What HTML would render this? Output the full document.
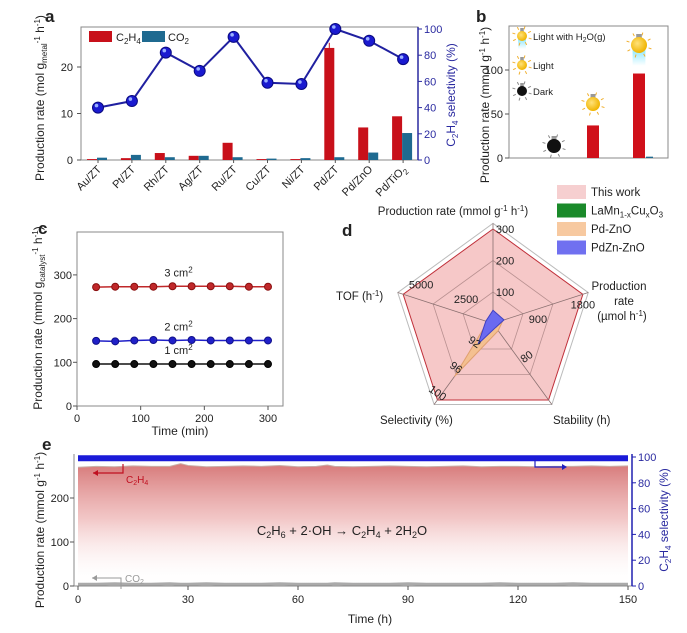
<!DOCTYPE html>
<html><head><meta charset="utf-8">
<style>
html,body{margin:0;padding:0;background:#fff;}
svg{display:block;font-family:"Liberation Sans",Arial,sans-serif;}
text{fill:#222;}
</style></head>
<body>
<svg id="fig" width="687" height="633" viewBox="0 0 687 633">
<defs>
<linearGradient id="eg" x1="0" y1="0" x2="0" y2="1">
<stop offset="0" stop-color="#d26a6a" stop-opacity="0.9"/>
<stop offset="0.45" stop-color="#eba8a8" stop-opacity="0.65"/>
<stop offset="1" stop-color="#ffffff" stop-opacity="0"/>
</linearGradient>
<radialGradient id="bulbY" cx="0.4" cy="0.4" r="0.6"><stop offset="0" stop-color="#ffe27a"/><stop offset="1" stop-color="#f0b400"/></radialGradient>
<linearGradient id="glow" x1="0" y1="0" x2="0" y2="1"><stop offset="0" stop-color="#5fe0ff" stop-opacity="0.9"/><stop offset="1" stop-color="#5fe0ff" stop-opacity="0"/></linearGradient>
</defs>
<g id="ga"></g>
<g id="gb"></g>
<g id="gc"></g>
<g id="gd"></g>
<g id="ge"></g>
</svg>
<script>
// ---- panel a data
const aCats = ["Au/ZT","Pt/ZT","Rh/ZT","Ag/ZT","Ru/ZT","Cu/ZT","Ni/ZT","Pd/ZT","Pd/ZnO","Pd/TiO2"];
const aC2H4 = [0.2,0.4,1.5,0.9,3.7,0.2,0.2,24.1,7.0,9.4];
const aCO2 = [0.5,1.1,0.6,0.9,0.6,0.3,0.4,0.6,1.6,5.8];
const aSel = [40,45,82,68,94,59,58,100,91,77];
const aLeftTicks = [0,10,20];
const aRightTicks = [0,20,40,60,80,100];
// ---- panel b data
const bCats = ["Dark","Light","Light with H2O(g)"];
const bC2H4 = [0,37,96];
const bCO2 = [0,0,1.5];
const bTicks = [0,50,100];
// ---- panel c data
const cTime = [30,60,90,120,150,180,210,240,270,300];
const c3 = [272,273,273,273,274,274,274,274,273,273];
const c2 = [149,148,150,151,150,151,150,150,150,150];
const c1 = [96,96,96,96,96,96,96,96,96,96];
const cYTicks = [0,100,200,300];
const cXTicks = [0,100,200,300];
// ---- panel d data
const dAxes = ["Production rate (mmol g-1 h-1)","Production rate (umol h-1)","Stability (h)","Selectivity (%)","TOF (h-1)"];
const dMin = [0,0,0,88,0];
const dMax = [300,1800,160,100,5000];
const dThisWork = [300,1800,160,100,5000];
const dLaMn = [10,60,5,88,200];
const dPdZnO = [20,200,15,96.3,300];
const dPdZn = [42,220,8,91.2,400];
// ---- panel e data
const eTime = [0,5,10,15,20,25,28,30,35,40,45,50,55,60,65,68,70,75,80,85,90,95,100,105,110,115,120,125,130,135,140,145,150];
const eC2H4 = [270,272,271,273,272,272,278,274,271,272,273,272,274,271,272,275,272,271,272,273,272,271,272,273,271,272,272,271,272,272,273,272,273];
const eCO2 = [4,4,5,4,4,5,4,4,5,4,4,4,5,4,4,4,5,4,4,4,5,4,4,4,4,5,4,4,4,5,4,4,4];
const eSel = [99,99,99,99,99,99,99,99,99,99,99,99,99,99,99,99,99,99,99,99,99,99,99,99,99,99,99,99,99,99,99,99,99];
const eYTicks = [0,100,200];
const eRTicks = [0,20,40,60,80,100];
const eXTicks = [0,30,60,90,120,150];

const NS="http://www.w3.org/2000/svg";
function mk(parent,tag,attrs,txt){const e=document.createElementNS(NS,tag);for(const k in attrs)e.setAttribute(k,attrs[k]);if(txt!==undefined)e.textContent=txt;parent.appendChild(e);return e;}
function lin(d0,d1,r0,r1){return v=>r0+(v-d0)*(r1-r0)/(d1-d0);}

// ================= PANEL A
(function(){
const g=document.getElementById('ga');
const L=81,R=418,T=27,B=160;
const y=lin(0,28.6,B,T), yr=lin(0,100,B,29);
const xc=i=>98+i*33.9;
let t=mk(g,'text',{x:45,y:22,'font-size':17,'font-weight':'bold'},'a');

let r=mk(g,'rect',{x:L,y:T,width:R-L,height:B-T,fill:'none',stroke:'#888','stroke-width':1});

aLeftTicks.forEach(v=>{mk(g,'line',{x1:L-4,x2:L,y1:y(v),y2:y(v),stroke:'#555'});
 const tt=mk(g,'text',{x:L-8,y:y(v)+4,'font-size':11,'text-anchor':'end'},v);
 });
aRightTicks.forEach(v=>{mk(g,'line',{x1:R,x2:R+4,y1:yr(v),y2:yr(v),stroke:'#2a2aa0'});
 const tt=mk(g,'text',{x:R+6,y:yr(v)+4,'font-size':11,fill:'#2a2aa0',style:'fill:#2a2aa0'},v);
 });
mk(g,'line',{x1:R,x2:R,y1:T,y2:B,stroke:'#2a2aa0','stroke-width':1.5});
aCats.forEach((c,i)=>{
 const b1=mk(g,'rect',{x:xc(i)-11,y:y(aC2H4[i]),width:10,height:B-y(aC2H4[i]),fill:'#c8101a'});
 
 const b2=mk(g,'rect',{x:xc(i)-1,y:y(aCO2[i]),width:10,height:B-y(aCO2[i]),fill:'#1f6a90'});
 
 mk(g,'line',{x1:xc(i),x2:xc(i),y1:B,y2:B+3,stroke:'#555'});
 const lab=c==="Pd/TiO2"?'Pd/TiO<tspan font-size="8" dy="3">2</tspan>':c;
 const tl=mk(g,'text',{'font-size':11,'text-anchor':'end',transform:`translate(${xc(i)+4},${B+10}) rotate(-45)`});
 tl.innerHTML=lab;
 
});
let pts=aSel.map((v,i)=>xc(i)+','+yr(v)).join(' ');
const pl=mk(g,'polyline',{points:pts,fill:'none',stroke:'#2020a0','stroke-width':2});

aSel.forEach((v,i)=>{const c=mk(g,'circle',{cx:xc(i),cy:yr(v),r:5.5,fill:'#1a1ad0',stroke:'#0a0a80'});
 
 mk(g,'circle',{cx:xc(i)-1.5,cy:yr(v)-2,r:1.8,fill:'#9ab0ff'});});
mk(g,'line',{x1:xc(7)-6,x2:xc(7)-6,y1:y(25.2),y2:y(24.1),stroke:'#c8101a'});
const lg1=mk(g,'rect',{x:89,y:31,width:23,height:11,fill:'#c8101a'});

mk(g,'text',{x:116,y:41,'font-size':11}).innerHTML='C<tspan font-size="8" dy="3">2</tspan><tspan dy="-3">H</tspan><tspan font-size="8" dy="3">4</tspan>';
const lg2=mk(g,'rect',{x:142,y:31,width:23,height:11,fill:'#1f6a90'});

mk(g,'text',{x:168,y:41,'font-size':11}).innerHTML='CO<tspan font-size="8" dy="3">2</tspan>';
const yt=mk(g,'text',{'font-size':12,'text-anchor':'middle',transform:'translate(44,98) rotate(-90)'});
yt.innerHTML='Production rate (mol g<tspan font-size="8" dy="3">metal</tspan><tspan font-size="8" dy="-7">-1</tspan><tspan dy="4"> h</tspan><tspan font-size="8" dy="-4">-1</tspan><tspan dy="4">)</tspan>';

const yt2=mk(g,'text',{'font-size':12,'text-anchor':'middle',fill:'#2a2aa0',style:'fill:#2a2aa0',transform:'translate(455,95) rotate(-90)'});
yt2.innerHTML='C<tspan font-size="8" dy="3">2</tspan><tspan dy="-3">H</tspan><tspan font-size="8" dy="3">4</tspan><tspan dy="-3"> selectivity (%)</tspan>';

})();

// ================= PANEL B
(function(){
const g=document.getElementById('gb');
const L=509,R=668,T=26,B=158;
const y=lin(0,50,B,114);
const xc=[554,593,639];
let t=mk(g,'text',{x:476,y:22,'font-size':17,'font-weight':'bold'},'b');

mk(g,'rect',{x:L,y:T,width:R-L,height:B-T,fill:'none',stroke:'#888'});
bTicks.forEach(v=>{mk(g,'line',{x1:L-4,x2:L,y1:y(v),y2:y(v),stroke:'#555'});
 const tt=mk(g,'text',{x:L-6,y:y(v)+4,'font-size':11,'text-anchor':'end'},v);
 });
bCats.forEach((c,i)=>{
 if(bC2H4[i]>0){const b=mk(g,'rect',{x:xc[i]-6,y:y(bC2H4[i]),width:12,height:B-y(bC2H4[i]),fill:'#d0101a'});
 }
 if(bCO2[i]>0){const b=mk(g,'rect',{x:xc[i]+7,y:y(bCO2[i]),width:7,height:B-y(bCO2[i]),fill:'#1f6a90'});
 }
});
function bulb(cx,cy,r,fill,glow){
 const gg=mk(g,'g',{});
 if(glow)mk(gg,'rect',{x:cx-r*0.8,y:cy,width:r*1.6,height:r*2.6,fill:'url(#glow)'});
 for(let k=0;k<8;k++){const a=k*Math.PI/4+0.3;mk(gg,'line',{x1:cx+Math.cos(a)*(r+2),y1:cy+Math.sin(a)*(r+2),x2:cx+Math.cos(a)*(r+5),y2:cy+Math.sin(a)*(r+5),stroke:fill==='#111'?'#888':'#f0b030','stroke-width':1});}
 mk(gg,'rect',{x:cx-r*0.35,y:cy-r-3,width:r*0.7,height:4,fill:'#999'});
 mk(gg,'circle',{cx:cx,cy:cy,r:r,fill:fill});
 return gg;}
let bb=bulb(554,146,7,'#111',false);
bb=bulb(593,104,7,'url(#bulbY)',false);
bb=bulb(639,45,8,'url(#bulbY)',true);
bb=bulb(522,36,5,'url(#bulbY)',true);
bb=bulb(522,65,5,'url(#bulbY)',false);
bb=bulb(522,91,5,'#111',false);
mk(g,'text',{x:533,y:40,'font-size':9.5}).innerHTML='Light with H<tspan font-size="7" dy="2">2</tspan><tspan dy="-2">O(g)</tspan>';
mk(g,'text',{x:533,y:69,'font-size':9.5},'Light');
mk(g,'text',{x:533,y:95,'font-size':9.5},'Dark');
const yt=mk(g,'text',{'font-size':12,'text-anchor':'middle',transform:'translate(489,105) rotate(-90)'});
yt.innerHTML='Production rate (mmol g<tspan font-size="8" dy="-4">-1</tspan><tspan dy="4"> h</tspan><tspan font-size="8" dy="-4">-1</tspan><tspan dy="4">)</tspan>';

})();

// ================= PANEL C
(function(){
const g=document.getElementById('gc');
const L=77,R=283,T=232,B=406;
const y=lin(0,100,B,362.3), x=lin(0,300,L,268);
let t=mk(g,'text',{x:38,y:234,'font-size':17,'font-weight':'bold'},'c');

mk(g,'rect',{x:L,y:T,width:R-L,height:B-T,fill:'none',stroke:'#888'});
cYTicks.forEach(v=>{mk(g,'line',{x1:L-4,x2:L,y1:y(v),y2:y(v),stroke:'#555'});
 const tt=mk(g,'text',{x:L-5,y:y(v)+4,'font-size':11,'text-anchor':'end'},v);
 });
cXTicks.forEach(v=>{mk(g,'line',{x1:x(v),x2:x(v),y1:B,y2:B+4,stroke:'#555'});
 const tt=mk(g,'text',{x:x(v),y:B+16,'font-size':11,'text-anchor':'middle'},v);
 });
[[c3,'#c0282a','#8a1010','3 cm'],[c2,'#2020c8','#10108a','2 cm'],[c1,'#111','#000','1 cm']].forEach((s,k)=>{
 const pl=mk(g,'polyline',{points:cTime.map((tm,i)=>x(tm)+','+y(s[0][i])).join(' '),fill:'none',stroke:s[1],'stroke-width':1.5});
 
 cTime.forEach((tm,i)=>{const c=mk(g,'circle',{cx:x(tm),cy:y(s[0][i]),r:3.5,fill:s[1],stroke:s[2]});
  });
 const lt=mk(g,'text',{x:x(150)+6,y:y(s[0][4])-10,'font-size':11,'text-anchor':'middle'});
 lt.innerHTML=s[3]+'<tspan font-size="8" dy="-4">2</tspan>';
 
});
const xt=mk(g,'text',{x:180,y:435,'font-size':12,'text-anchor':'middle'},'Time (min)');

const yt=mk(g,'text',{'font-size':12,'text-anchor':'middle',transform:'translate(42,318) rotate(-90)'});
yt.innerHTML='Production rate (mmol g<tspan font-size="8" dy="3">catalyst</tspan><tspan font-size="8" dy="-7">-1</tspan><tspan dy="4"> h</tspan><tspan font-size="8" dy="-4">-1</tspan><tspan dy="4">)</tspan>';

})();

// ================= PANEL D
(function(){
const g=document.getElementById('gd');
const cx=493,cy=323.5,Rr=94.5;
const ang=i=>(-90+72*i)*Math.PI/180;
const P=(i,f)=>[cx+Math.cos(ang(i))*Rr*f,cy+Math.sin(ang(i))*Rr*f];
const norm=(i,v)=>(v-dMin[i])/(dMax[i]-dMin[i]);
let t=mk(g,'text',{x:342,y:236,'font-size':17,'font-weight':'bold'},'d');

mk(g,'polygon',{points:[0,1,2,3,4].map(i=>P(i,1.06).join(',')).join(' '),fill:'none',stroke:'#bbb'});
function poly(vals,fill,stroke,name){const p=mk(g,'polygon',{points:vals.map((v,i)=>P(i,Math.max(0,norm(i,v))).join(',')).join(' '),fill:fill,stroke:stroke,'stroke-width':1});
 }
poly(dThisWork,'#f6c8c8','#c0303a','radar-this-work');
[1/3,2/3].forEach(f=>mk(g,'polygon',{points:[0,1,2,3,4].map(i=>P(i,f).join(',')).join(' '),fill:'none',stroke:'#b89090','stroke-width':0.8}));
[0,1,2,3,4].forEach(i=>{const p=P(i,1.06);mk(g,'line',{x1:cx,y1:cy,x2:p[0],y2:p[1],stroke:'#8a7070','stroke-width':0.8});});
poly(dLaMn,'#1a9a2a','#107010','radar-lamncuo');
poly(dPdZnO,'#f4c090','#e0a070','radar-pd-zno');
poly(dPdZn,'#6a6af0','#4040c0','radar-pdzn-zno');
const tk=[[0,100,'100'],[0,200,'200'],[0,300,'300'],[1,900,'900'],[1,1800,'1800'],[2,80,'80'],[3,92,'92'],[3,96,'96'],[3,100,'100'],[4,2500,'2500'],[4,5000,'5000']];
tk.forEach(k=>{const p=P(k[0],norm(k[0],k[1]));
 let dx=0,dy=4,rot=0;
 if(k[0]===0){dx=12;dy=4;} if(k[0]===1){dx=0;dy=14;} if(k[0]===2){dx=8;dy=-2;rot=-35;} if(k[0]===3){dx=-2;dy=-4;rot=35;} if(k[0]===4){dx=18;dy=-6;}
 const tt=mk(g,'text',{'font-size':11,'text-anchor':'middle',transform:`translate(${p[0]+dx},${p[1]+dy}) rotate(${rot})`},k[2]);
 });
let a1=mk(g,'text',{x:453,y:215,'font-size':11.5,'text-anchor':'middle'});
a1.innerHTML='Production rate (mmol g<tspan font-size="8" dy="-4">-1</tspan><tspan dy="4"> h</tspan><tspan font-size="8" dy="-4">-1</tspan><tspan dy="4">)</tspan>';

let a2=mk(g,'text',{x:619,y:290,'font-size':11.5,'text-anchor':'middle'});
a2.innerHTML='<tspan x="619">Production</tspan><tspan x="624" dy="15">rate</tspan><tspan x="622" dy="15">(µmol h</tspan><tspan font-size="8" dy="-4">-1</tspan><tspan dy="4">)</tspan>';

let a3=mk(g,'text',{x:553,y:424,'font-size':11.5},'Stability (h)');

let a4=mk(g,'text',{x:380,y:424,'font-size':11.5},'Selectivity (%)');

let a5=mk(g,'text',{x:336,y:300,'font-size':11.5});
a5.innerHTML='TOF (h<tspan font-size="8" dy="-4">-1</tspan><tspan dy="4">)</tspan>';

const leg=[['#f6cfd0','This work'],['#1a8a2a','LaMn<tspan font-size="8" dy="3">1-x</tspan><tspan dy="-3">Cu</tspan><tspan font-size="8" dy="3">x</tspan><tspan dy="-3">O</tspan><tspan font-size="8" dy="3">3</tspan>'],['#f7c9a0','Pd-ZnO'],['#7070f0','PdZn-ZnO']];
leg.forEach((l,i)=>{const r=mk(g,'rect',{x:557,y:185+i*18.5,width:29,height:14,fill:l[0]});
 
 const tt=mk(g,'text',{x:591,y:196+i*18.5,'font-size':11.5});tt.innerHTML=l[1];
 });
})();

// ================= PANEL E
(function(){
const g=document.getElementById('ge');
const L=74,R=632,T=454,B=586;
const x=lin(0,150,78,628), y=lin(0,100,B,542), yr=lin(0,100,B,457);
let t=mk(g,'text',{x:42,y:450,'font-size':17,'font-weight':'bold'},'e');

const area='M'+x(0)+','+B+' '+eTime.map((tm,i)=>'L'+x(tm)+','+y(eC2H4[i])).join(' ')+' L'+x(150)+','+B+' Z';
const ar=mk(g,'path',{d:area,fill:'url(#eg)'});

const ln=mk(g,'polyline',{points:eTime.map((tm,i)=>x(tm)+','+y(eC2H4[i])).join(' '),fill:'none',stroke:'#c8b0a8','stroke-width':1});

const co=mk(g,'polyline',{points:eTime.map((tm,i)=>x(tm)+','+y(eCO2[i])).join(' '),fill:'none',stroke:'#aaa','stroke-width':3});

const sl=mk(g,'polyline',{points:eTime.map((tm,i)=>x(tm)+','+yr(eSel[i])).join(' '),fill:'none',stroke:'#1a1ad8','stroke-width':6});

mk(g,'line',{x1:L,x2:L,y1:T,y2:B,stroke:'#888'});
mk(g,'line',{x1:L,x2:R,y1:B,y2:B,stroke:'#888'});
mk(g,'line',{x1:R,x2:R,y1:T,y2:B,stroke:'#2020b0','stroke-width':1.5});
eYTicks.forEach(v=>{mk(g,'line',{x1:L-4,x2:L,y1:y(v),y2:y(v),stroke:'#555'});
 const tt=mk(g,'text',{x:L-5,y:y(v)+4,'font-size':11,'text-anchor':'end'},v);
 });
eRTicks.forEach(v=>{mk(g,'line',{x1:R,x2:R+4,y1:yr(v),y2:yr(v),stroke:'#2020b0'});
 const tt=mk(g,'text',{x:R+6,y:yr(v)+4,'font-size':11,style:'fill:#2a2aa0'},v);
 });
eXTicks.forEach(v=>{mk(g,'line',{x1:x(v),x2:x(v),y1:B,y2:B+4,stroke:'#555'});
 const tt=mk(g,'text',{x:x(v),y:B+17,'font-size':11,'text-anchor':'middle'},v);
 });
mk(g,'path',{d:'M123,464 V473 H93',fill:'none',stroke:'#c01020','stroke-width':1.2});
mk(g,'path',{d:'M93,473 l5,-3 v6 z',fill:'#c01020'});
mk(g,'text',{x:126,y:483,'font-size':10,style:'fill:#c01020'}).innerHTML='C<tspan font-size="7" dy="2">2</tspan><tspan dy="-2">H</tspan><tspan font-size="7" dy="2">4</tspan>';
mk(g,'path',{d:'M121,589 V578 H92',fill:'none',stroke:'#999','stroke-width':1});
mk(g,'path',{d:'M92,578 l5,-3 v6 z',fill:'#999'});
mk(g,'text',{x:125,y:582,'font-size':10,style:'fill:#999'}).innerHTML='CO<tspan font-size="7" dy="2">2</tspan>';
mk(g,'path',{d:'M535,458 V467 H565',fill:'none',stroke:'#2020c0','stroke-width':1.2});
mk(g,'path',{d:'M567,467 l-5,-3 v6 z',fill:'#2020c0'});
const eq=mk(g,'text',{x:342,y:535,'font-size':13,'text-anchor':'middle'});
eq.innerHTML='C<tspan font-size="9" dy="3">2</tspan><tspan dy="-3">H</tspan><tspan font-size="9" dy="3">6</tspan><tspan dy="-3"> + 2·OH → C</tspan><tspan font-size="9" dy="3">2</tspan><tspan dy="-3">H</tspan><tspan font-size="9" dy="3">4</tspan><tspan dy="-3"> + 2H</tspan><tspan font-size="9" dy="3">2</tspan><tspan dy="-3">O</tspan>';

const xt=mk(g,'text',{x:370,y:623,'font-size':12,'text-anchor':'middle'},'Time (h)');

const yt=mk(g,'text',{'font-size':12,'text-anchor':'middle',transform:'translate(44,530) rotate(-90)'});
yt.innerHTML='Production rate (mmol g<tspan font-size="8" dy="-4">-1</tspan><tspan dy="4"> h</tspan><tspan font-size="8" dy="-4">-1</tspan><tspan dy="4">)</tspan>';

const yt2=mk(g,'text',{'font-size':12,'text-anchor':'middle',style:'fill:#2a2aa0',transform:'translate(668,520) rotate(-90)'});
yt2.innerHTML='C<tspan font-size="8" dy="3">2</tspan><tspan dy="-3">H</tspan><tspan font-size="8" dy="3">4</tspan><tspan dy="-3"> selectivity (%)</tspan>';

})();
</script>
</body></html>
